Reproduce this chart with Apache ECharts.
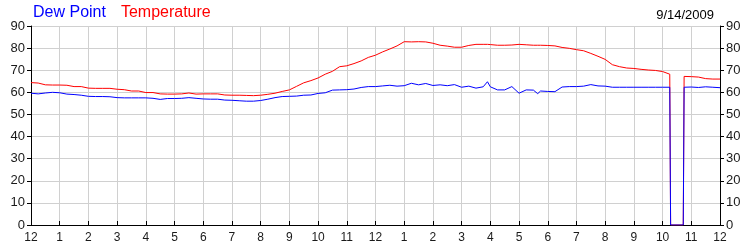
<!DOCTYPE html>
<html>
<head>
<meta charset="utf-8">
<script src="https://cdn.jsdelivr.net/npm/echarts@6/dist/echarts.min.js"></script>
<style>html,body{margin:0;padding:0;background:#fff;}#c{width:750px;height:250px;}</style>
</head>
<body>
<div id="c"></div>
<script>
// decimal hours since midnight
var times = [0,0.25,0.5,0.75,1,1.25,1.5,1.75,2,2.25,2.5,2.75,3,3.25,3.5,3.75,4,4.25,4.5,4.75,5,5.25,5.5,5.75,6,6.25,6.5,6.75,7,7.25,7.5,7.75,8,8.25,8.5,8.75,9,9.25,9.5,9.75,10,10.25,10.5,10.75,11,11.25,11.5,11.75,12,12.25,12.5,12.75,13,13.25,13.5,13.75,14,14.25,14.5,14.75,15,15.25,15.5,15.75,15.9,16,16.25,16.5,16.75,17,17.25,17.5,17.65,17.75,18,18.25,18.5,18.75,19,19.25,19.5,19.75,20,20.25,20.5,20.75,21,21.25,21.5,21.75,22,22.25,22.28,22.72,22.75,23,23.25,23.5,23.75,24];
var temperature = [64.4,64.2,63.4,63.3,63.3,63.2,62.6,62.6,61.9,61.8,61.8,61.8,61.4,61.2,60.6,60.6,59.9,59.9,59.3,59.2,59.2,59.3,59.7,59.2,59.3,59.3,59.3,58.8,58.7,58.7,58.6,58.5,58.7,59.1,59.6,60.4,61.1,62.7,64.3,65.3,66.5,68.2,69.5,71.6,72.0,73.0,74.2,75.8,76.8,78.3,79.6,81.0,82.9,82.8,82.9,82.8,82.2,81.3,80.9,80.4,80.4,81.2,81.7,81.7,81.7,81.6,81.3,81.3,81.4,81.7,81.5,81.3,81.3,81.3,81.2,81.0,80.3,79.9,79.3,78.8,77.6,76.3,74.9,72.5,71.6,71.0,70.8,70.4,70.1,69.9,69.4,68.2,0,0,67.2,67.1,66.9,66.2,66.0,66.0];
var dewPoint = [59.6,59.3,59.7,60.0,59.8,59.2,59.0,58.7,58.2,58.1,58.1,58.0,57.6,57.5,57.5,57.5,57.5,57.3,56.8,57.2,57.2,57.3,57.6,57.3,57.0,56.9,56.9,56.5,56.4,56.2,56.0,56.0,56.3,56.9,57.6,58.1,58.2,58.3,58.7,58.8,59.5,59.8,61.0,61.1,61.2,61.5,62.2,62.6,62.6,62.9,63.2,62.8,63.0,64.1,63.4,64.0,63.1,63.4,63.0,63.5,62.3,62.8,61.9,62.5,64.8,62.5,61.1,61.1,62.6,59.6,61.1,61.0,59.4,60.6,60.4,60.3,62.4,62.6,62.6,62.8,63.5,62.9,62.8,62.3,62.3,62.3,62.3,62.3,62.3,62.3,62.3,62.3,0,0,62.3,62.4,62.2,62.5,62.3,62.1];
var hourLabels = ['12','1','2','3','4','5','6','7','8','9','10','11','12','1','2','3','4','5','6','7','8','9','10','11','12'];
var yTicks = [0,10,20,30,40,50,60,70,80,90];
var dateLabel = '9/14/2009';

function pairs(vals){ return vals.map(function(v,i){ return [times[i], v]; }); }

var font = '"Liberation Sans", Arial, sans-serif';
var yAxisBase = function(pos){
  return {
    type:'value', position:pos, min:yTicks[0], max:yTicks[yTicks.length-1], interval:10,
    axisLine:{show:true, lineStyle:{color:'#000', width:1}},
    axisTick:{show:true, inside:false, length:4, lineStyle:{color:'#000'}},
    axisLabel:{color:'#1a1a1a', fontSize:13, fontFamily:font, margin:6},
    splitLine:{show: pos==='left', lineStyle:{color:'#d0d0d0', width:1}}
  };
};
var chart = echarts.init(document.getElementById('c'), null, {renderer:'canvas'});
chart.setOption({
  animation:false,
  backgroundColor:'#fff',
  grid:{left:31, right:30, top:26, bottom:25, containLabel:false},
  title:{text:dateLabel, right:31, top:4, textStyle:{fontSize:13, fontWeight:'normal', color:'#000', fontFamily:font}},
  legend:{
    left:23, top:0, itemWidth:0, itemHeight:0, itemGap:10, icon:'rect',
    textStyle:{fontSize:16, fontFamily:font},
    data:[{name:'Dew Point', textStyle:{color:'#0000ff'}},{name:'Temperature', textStyle:{color:'#ff0000'}}]
  },
  xAxis:{
    type:'value', min:0, max:24, interval:1,
    axisLine:{show:true, onZero:false, lineStyle:{color:'#000'}},
    axisTick:{show:true, inside:true, length:4, lineStyle:{color:'#000'}},
    axisLabel:{color:'#1a1a1a', fontSize:12, fontFamily:font, margin:7,
      formatter:function(v){ return hourLabels[Math.round(v)]; }},
    splitLine:{show:true, lineStyle:{color:'#d0d0d0', width:1}}
  },
  yAxis:[yAxisBase('left'), yAxisBase('right')],
  series:[
    {name:'Dew Point', type:'line', data:pairs(dewPoint), showSymbol:false, symbol:'none',
      lineStyle:{color:'#0000ff', width:1}, itemStyle:{color:'#0000ff'}, z:3},
    {name:'Temperature', type:'line', data:pairs(temperature), showSymbol:false, symbol:'none',
      lineStyle:{color:'#ff0000', width:1}, itemStyle:{color:'#ff0000'}, z:2}
  ]
});
</script>
</body>
</html>
